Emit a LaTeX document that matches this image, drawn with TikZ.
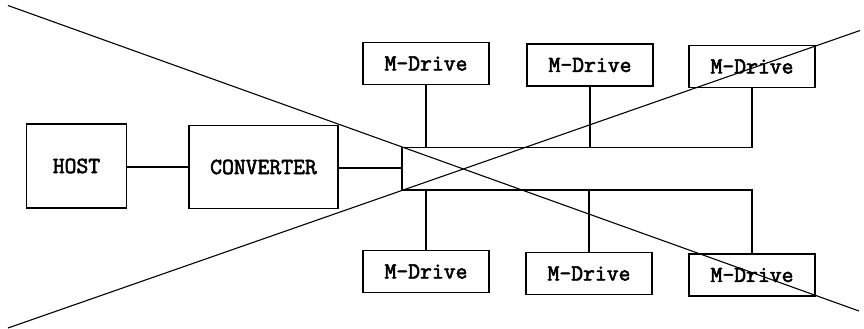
\documentclass[tikz,border=0pt]{standalone}
\usepackage{fontspec}
\newfontfamily\boxfont[FakeBold=2.5]{Latin Modern Mono}
\begin{document}
\begin{tikzpicture}[x=1pt, y=-1pt, line width=1.1pt,
  every node/.style={draw, rectangle, inner sep=0pt, font=\boxfont\fontsize{23}{27}\selectfont},
  drive/.style={minimum width=126pt, minimum height=42pt},
  unit/.style={minimum width=100pt, minimum height=84pt}]

  \useasboundingbox (0,0) rectangle (864,329);

  \node[unit] (host) at (76.5,166) {HOST};
  \node[unit, minimum width=149pt, minimum height=83pt] (conv) at (263.5,167) {CONVERTER};

  \node[drive] (td1) at (426,63.5) {M-Drive};
  \node[drive] (td2) at (590,65) {M-Drive};
  \node[drive] (td3) at (752,66.5) {M-Drive};
  \node[drive] (bd1) at (426,271.5) {M-Drive};
  \node[drive] (bd2) at (589,273.5) {M-Drive};
  \node[drive] (bd3) at (752,275) {M-Drive};

  \coordinate (bustop) at (402,147.5);
  \coordinate (busbot) at (402,190);

  \draw (host.east |- 0,167) -- (conv.west |- 0,167);
  \draw (conv.east |- 0,168) -- (bustop |- 0,168);
  \draw (td3.south) |- (bustop) -- (busbot) -| (bd3.north);
  \draw (td1.south) -- (td1.south |- bustop);
  \draw (td2.south) -- (td2.south |- bustop);
  \draw (bd1.north) -- (bd1.north |- busbot);
  \draw (bd2.north) -- (bd2.north |- busbot);

  \coordinate (xa1) at (8,5.5);
  \coordinate (xa2) at (859,311);
  \coordinate (xb1) at (8,328);
  \coordinate (xb2) at (860,30.5);
  \draw (xa1) -- (xa2);
  \draw (xb1) -- (xb2);
\end{tikzpicture}
\end{document}
